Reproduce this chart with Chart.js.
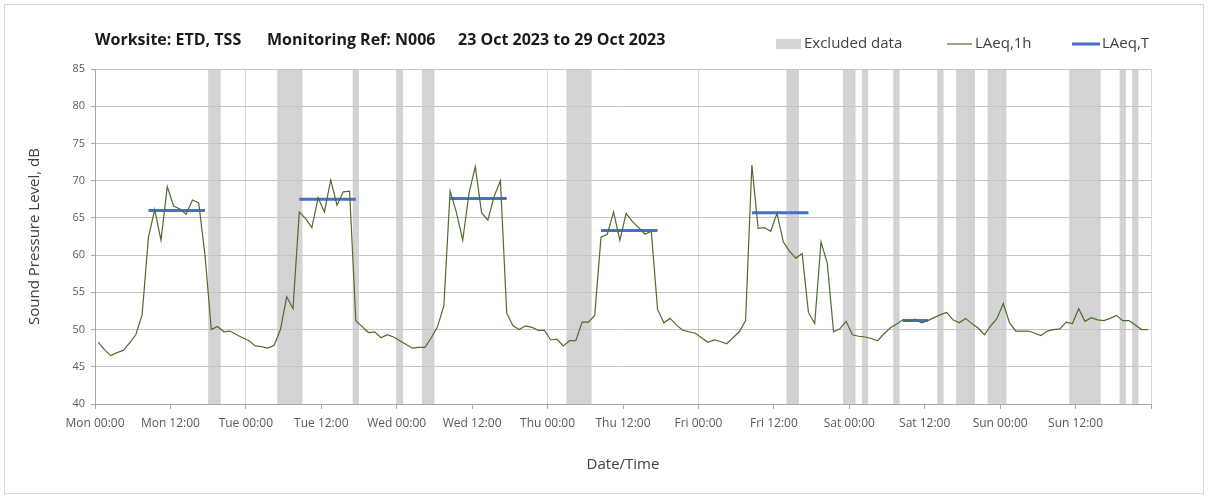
<!DOCTYPE html>
<html>
<head>
<meta charset="utf-8">
<script src="https://cdn.jsdelivr.net/npm/chart.js@4.4.1/dist/chart.umd.min.js"></script>
<style>
    body { margin: 0; background: #ffffff; }
    #wrap { width: 1208px; height: 498px; position: relative; }
</style>
</head>
<body>
<div id="wrap"><canvas id="noiseChart"></canvas></div>
<script>
// x axis runs in hours from Mon 00:00 (0) to the following Mon 00:00 (168)
const tickLabels = [
    'Mon 00:00', 'Mon 12:00', 'Tue 00:00', 'Tue 12:00', 'Wed 00:00', 'Wed 12:00', 'Thu 00:00',
    'Thu 12:00', 'Fri 00:00', 'Fri 12:00', 'Sat 00:00', 'Sat 12:00', 'Sun 00:00', 'Sun 12:00'
];

// hourly LAeq,1h, one value per hour starting Mon 00:00
const laeq1h = [
    48.3, 47.3, 46.5, 46.9, 47.2, 48.2, 49.3, 52.0, 62.4, 66.1, 62.0, 69.2,
    66.6, 66.2, 65.5, 67.4, 67.0, 60.0, 50.0, 50.4, 49.7, 49.8, 49.3, 48.9,
    48.5, 47.8, 47.7, 47.5, 47.9, 50.0, 54.4, 52.8, 65.8, 64.9, 63.7, 67.7,
    65.8, 70.1, 66.7, 68.5, 68.6, 51.2, 50.4, 49.6, 49.7, 48.9, 49.3, 49.0,
    48.5, 48.0, 47.5, 47.6, 47.6, 48.9, 50.4, 53.2, 68.6, 65.7, 62.0, 68.3,
    71.9, 65.7, 64.7, 67.9, 70.0, 52.2, 50.5, 50.0, 50.5, 50.3, 49.9, 49.9,
    48.6, 48.7, 47.8, 48.5, 48.5, 51.0, 51.0, 51.9, 62.4, 62.8, 65.8, 62.0,
    65.6, 64.5, 63.7, 62.8, 63.2, 52.7, 50.9, 51.5, 50.6, 49.9, 49.7, 49.5,
    48.9, 48.3, 48.6, 48.4, 48.1, 48.9, 49.7, 51.2, 72.1, 63.6, 63.7, 63.2,
    65.6, 61.8, 60.5, 59.6, 60.2, 52.3, 50.8, 61.8, 58.9, 49.7, 50.1, 51.1,
    49.3, 49.1, 49.0, 48.8, 48.5, 49.4, 50.2, 50.7, 51.3, 51.1, 51.4, 50.9,
    51.2, 51.6, 52.0, 52.3, 51.3, 50.9, 51.5, 50.8, 50.2, 49.3, 50.5, 51.5,
    53.5, 50.9, 49.8, 49.8, 49.8, 49.5, 49.2, 49.8, 50.0, 50.1, 51.0, 50.8,
    52.8, 51.1, 51.6, 51.3, 51.2, 51.5, 51.9, 51.2, 51.2, 50.6, 50.0, 50.0
];

// LAeq,T over each daytime assessment period (hours)
const periodStart = [8, 32, 56, 80, 104, 128];
const periodEnd = [18, 42, 66, 90, 114, 133];
const periodLevel = [66.0, 67.5, 67.6, 63.3, 65.7, 51.2];

// excluded data windows (hours)
const exclStart = [18, 29, 41, 48, 52, 75, 110, 119, 122, 127, 134, 137, 142, 155, 163, 165];
const exclEnd = [20, 33, 42, 49, 54, 79, 112, 121, 123, 128, 135, 140, 145, 160, 164, 166];

const yTicks = { min: 40, max: 85, step: 5 };

const hourlyPoints = laeq1h.map((v, i) => ({ x: i + 0.5, y: v }));

// one dataset, segments split with null gaps
const periodPoints = [];
periodStart.forEach((s, i) => {
    periodPoints.push({ x: s + 0.5, y: periodLevel[i] });
    periodPoints.push({ x: periodEnd[i] - 0.5, y: periodLevel[i] });
    periodPoints.push({ x: periodEnd[i], y: null });
});

const textColor = '#404040';
const tickColor = '#595959';
const baseFont = 'Open Sans, Noto Sans, sans-serif';

// white background, frame and grey excluded-data bands (under the grid)
const bandsPlugin = {
    id: 'bands',
    beforeDraw(chart) {
        const { ctx, chartArea, scales } = chart;
        ctx.save();
        ctx.fillStyle = '#ffffff';
        ctx.fillRect(0, 0, chart.width, chart.height);
        ctx.strokeStyle = '#d9d9d9';
        ctx.lineWidth = 1;
        ctx.strokeRect(4.5, 4.5, chart.width - 9, chart.height - 9);
        ctx.fillStyle = '#d3d3d3';
        exclStart.forEach((s, i) => {
            const x0 = scales.x.getPixelForValue(s);
            const x1 = scales.x.getPixelForValue(exclEnd[i]);
            ctx.fillRect(x0, chartArea.top, x1 - x0, chartArea.bottom - chartArea.top);
        });
        ctx.restore();
    }
};

// heading and legend across the top
const headerPlugin = {
    id: 'header',
    afterDraw(chart) {
        const ctx = chart.ctx;
        ctx.save();
        ctx.fillStyle = '#1a1a1a';
        ctx.textBaseline = 'middle';
        ctx.font = 'bold 16px ' + baseFont;
        ctx.fillText('Worksite: ETD, TSS', 95, 40);
        ctx.fillText('Monitoring Ref: N006', 267, 40);
        ctx.fillText('23 Oct 2023 to 29 Oct 2023', 458, 40);

        ctx.font = '15px ' + baseFont;
        ctx.fillStyle = '#d3d3d3';
        ctx.fillRect(776, 39, 25, 10);
        ctx.fillStyle = textColor;
        ctx.fillText('Excluded data', 804, 44);

        ctx.strokeStyle = '#4f6b2f';
        ctx.lineWidth = 1.2;
        ctx.beginPath();
        ctx.moveTo(947, 44);
        ctx.lineTo(972, 44);
        ctx.stroke();
        ctx.fillText('LAeq,1h', 975, 44);

        ctx.strokeStyle = '#4472c4';
        ctx.lineWidth = 3;
        ctx.beginPath();
        ctx.moveTo(1072, 44);
        ctx.lineTo(1100, 44);
        ctx.stroke();
        ctx.fillText('LAeq,T', 1102, 44);
        ctx.restore();
    }
};

new Chart(document.getElementById('noiseChart'), {
    type: 'line',
    data: {
        datasets: [
            {
                label: 'LAeq,1h',
                data: hourlyPoints,
                borderColor: '#4f6b2f',
                borderWidth: 1.2,
                pointRadius: 0,
                tension: 0,
                order: 1
            },
            {
                label: 'LAeq,T',
                data: periodPoints,
                borderColor: '#4472c4',
                borderWidth: 3,
                pointRadius: 0,
                spanGaps: false,
                order: 2
            }
        ]
    },
    options: {
        responsive: true,
        maintainAspectRatio: false,
        animation: false,
        layout: { padding: { top: 69, right: 57, left: 0, bottom: 0 } },
        scales: {
            x: {
                type: 'linear',
                min: 0,
                max: 168,
                afterFit: s => { s.height = 94; },
                border: { color: '#a6a6a6' },
                grid: {
                    color: c => (c.tick && c.tick.value > 0 && c.tick.value % 24 === 0) ? '#d9d9d9' : 'rgba(0,0,0,0)',
                    tickColor: '#a6a6a6',
                    tickLength: 5
                },
                ticks: {
                    stepSize: 12,
                    autoSkip: false,
                    maxRotation: 0,
                    padding: 7,
                    color: tickColor,
                    font: { family: baseFont, size: 12 },
                    callback: v => tickLabels[v / 12] || ''
                },
                title: {
                    display: true,
                    text: 'Date/Time',
                    color: textColor,
                    font: { family: baseFont, size: 15 },
                    padding: { top: 0, bottom: 24 }
                }
            },
            y: {
                min: yTicks.min,
                max: yTicks.max,
                afterFit: s => { s.width = 95; },
                border: { color: '#a6a6a6' },
                grid: {
                    color: '#c4c4c4',
                    tickColor: '#a6a6a6',
                    tickLength: 4
                },
                ticks: {
                    stepSize: yTicks.step,
                    padding: 6,
                    color: tickColor,
                    font: { family: baseFont, size: 11 }
                },
                title: {
                    display: true,
                    text: 'Sound Pressure Level, dB',
                    color: textColor,
                    font: { family: baseFont, size: 15 },
                    padding: { top: 26, bottom: 0 }
                }
            }
        },
        plugins: {
            legend: { display: false },
            tooltip: { enabled: false }
        }
    },
    plugins: [bandsPlugin, headerPlugin]
});
</script>
</body>
</html>
